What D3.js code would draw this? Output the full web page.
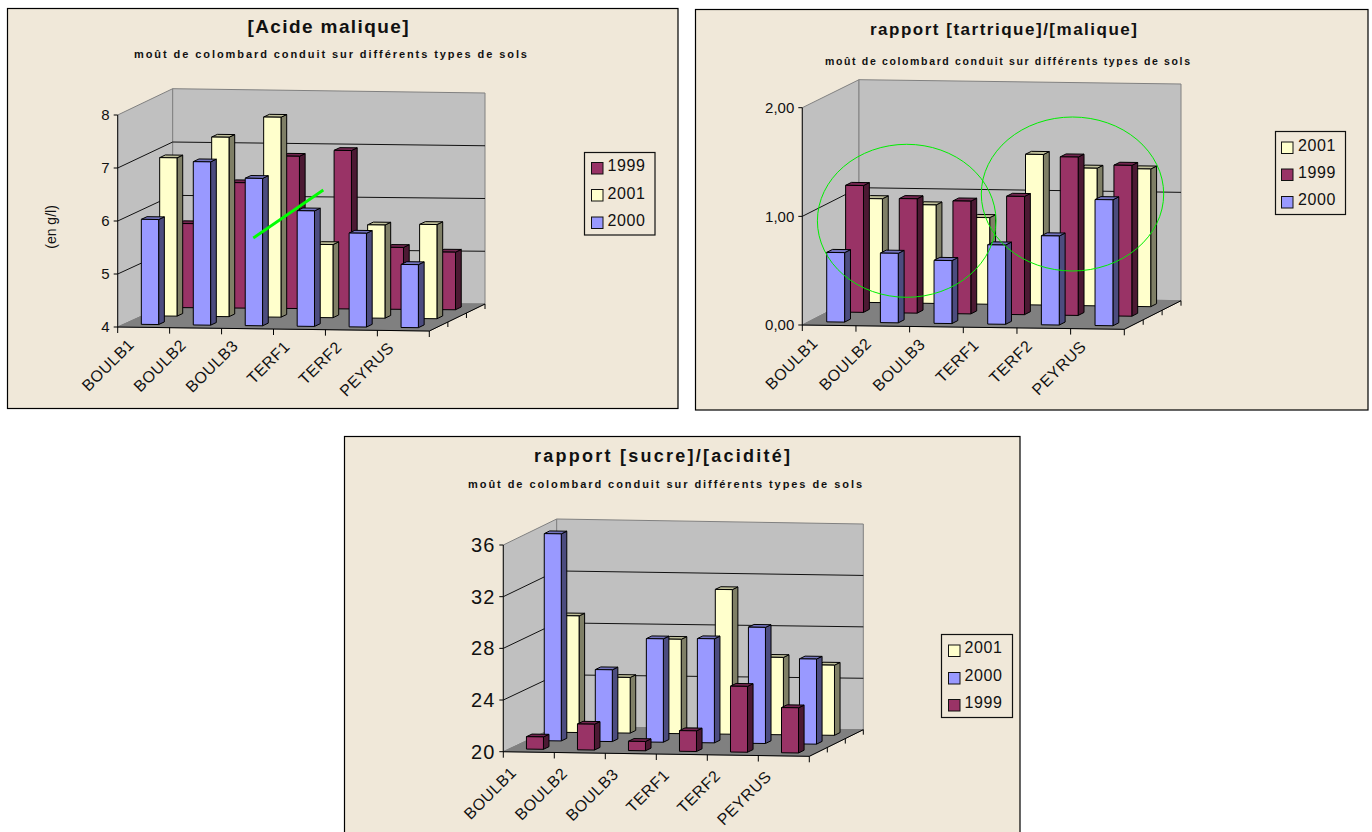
<!DOCTYPE html>
<html lang="fr">
<head>
<meta charset="utf-8">
<title>Moût de colombard</title>
<script src="https://cdn.jsdelivr.net/npm/d3@7"></script>
<style>
  html, body { margin: 0; padding: 0; background: #fff; overflow: hidden; }
  svg { display: block; font-family: "Liberation Sans", Arial, sans-serif; }
</style>
</head>
<body>
<svg id="board" width="1372" height="832"></svg>
<script>
// Sites, shared by the three charts
const categories = ["BOULB1", "BOULB2", "BOULB3", "TERF1", "TERF2", "PEYRUS"];

// Malic acid, g/l
const malique1999 = [5.58, 6.36, 6.87, 6.99, 5.17, 5.09];
const malique2001 = [6.98, 7.38, 7.77, 5.38, 5.76, 5.78];
const malique2000 = [5.98, 7.08, 6.78, 6.18, 5.77, 5.19];

// Tartaric / malic ratio
const tartrique2001 = [0.96, 0.91, 0.80, 1.39, 1.27, 1.27];
const tartrique1999 = [1.17, 1.055, 1.04, 1.09, 1.46, 1.39];
const tartrique2000 = [0.64, 0.64, 0.58, 0.73, 0.82, 1.16];

// Sugar / acidity ratio
const sucre2001 = [29.0, 24.3, 27.3, 31.2, 26.0, 25.45];
const sucre2000 = [36.0, 25.55, 28.0, 28.06, 29.0, 26.6];
const sucre1999 = [20.96, 22.0, 20.72, 21.6, 25.1, 23.5];

const malTicks = [4, 5, 6, 7, 8];
const malLabels = ["4", "5", "6", "7", "8"];
const tarTicks = [0, 1, 2];
const tarLabels = ["0,00", "1,00", "2,00"];
const sucTicks = [20, 24, 28, 32, 36];
const sucLabels = ["20", "24", "28", "32", "36"];

// Each series colour: front face, side face, top face
const palette = {
  "1999": ["#993366", "#4c1933", "#732650"],
  "2000": ["#9999ff", "#4c4c7f", "#7373bf"],
  "2001": ["#ffffcc", "#7f7f66", "#bfbf99"]
};

const charts = [
  {
    panel: [7.5, 8.5, 670.5, 400],
    title: "[Acide malique]", titleAt: [328, 33], titleSize: 19, titleLen: 161,
    subAt: [330.5, 58], subSize: 11, subLen: 393,
    // series listed front row first; legend order is separate
    rows: [["2000", malique2000], ["2001", malique2001], ["1999", malique1999]],
    legendOrder: ["1999", "2001", "2000"],
    domain: [4, 8], ticks: malTicks, tickLabels: malLabels, tickSize: 15,
    fl: [117.7, 327], fr: [429.3, 331], bl: [172.7, 302], br: [485, 304],
    hF: 212, hBL: 213.3, hBR: 211,
    labelOffset: [17.5, 18.5], xSize: 16,
    legend: { box: [584.5, 152.5, 70.5, 82.5], swX: 591.5, swY: [162.5, 189.5, 217], txX: 607.5, base: [171, 198.5, 226] }
  },
  {
    panel: [695.5, 9.5, 672.5, 400.5],
    title: "rapport [tartrique]/[malique]", titleAt: [1003.5, 35], titleSize: 17, titleLen: 267,
    subAt: [1007.5, 65], subSize: 10.5, subLen: 365,
    rows: [["2000", tartrique2000], ["1999", tartrique1999], ["2001", tartrique2001]],
    legendOrder: ["2001", "1999", "2000"],
    domain: [0, 2], ticks: tarTicks, tickLabels: tarLabels, tickSize: 15,
    fl: [802.3, 325], fr: [1124.3, 329.3], bl: [859, 295.7], br: [1181, 300.7],
    hF: 217.3, hBL: 216, hBR: 216.7,
    labelOffset: [16.5, 19], xSize: 16,
    legend: { box: [1275.5, 131.5, 70, 83], swX: 1281.5, swY: [142, 169, 196.5], txX: 1298, base: [150.5, 178, 205] }
  },
  {
    panel: [344.5, 436.5, 675.5, 410],
    title: "rapport [sucre]/[acidité]", titleAt: [662, 462], titleSize: 18, titleLen: 256,
    subAt: [665, 488], subSize: 11, subLen: 394,
    rows: [["1999", sucre1999], ["2000", sucre2000], ["2001", sucre2001]],
    legendOrder: ["2001", "2000", "1999"],
    domain: [20, 36], ticks: sucTicks, tickLabels: sucLabels, tickSize: 20,
    fl: [503.3, 751.7], fr: [809.3, 756.3], bl: [556.7, 726.7], br: [863.3, 729.7],
    hF: 206.7, hBL: 207.7, hBR: 205.7,
    labelOffset: [14, 22], xSize: 16,
    legend: { box: [941.5, 634.5, 71, 83], swX: 948.5, swY: [645, 672.5, 699.5], txX: 964.5, base: [653, 680.5, 707.5] }
  }
];

const svg = d3.select("#board");

charts.forEach(drawChart);

// Hand-drawn annotations over the charts
svg.append("line")
  .attr("x1", 253.3).attr("y1", 238).attr("x2", 323.3).attr("y2", 190)
  .attr("stroke", "#00ff00").attr("stroke-width", 2.8);
[[906.7, 220.8, 89.3, 76.5], [1072.5, 194, 91.2, 77]].forEach(([cx, cy, rx, ry]) => {
  svg.append("ellipse")
    .attr("cx", cx).attr("cy", cy).attr("rx", rx).attr("ry", ry)
    .attr("fill", "none").attr("stroke", "#00ee00").attr("stroke-width", 1);
});

function drawChart(c) {
  const g = svg.append("g");

  // Panel
  g.append("rect")
    .attr("x", c.panel[0]).attr("y", c.panel[1])
    .attr("width", c.panel[2]).attr("height", c.panel[3])
    .attr("fill", "#f0e8d9").attr("stroke", "#000").attr("stroke-width", 1.2);

  // Titles
  g.append("text").text(c.title)
    .attr("x", c.titleAt[0]).attr("y", c.titleAt[1])
    .attr("text-anchor", "middle").attr("font-weight", "bold")
    .attr("font-size", c.titleSize)
    .attr("textLength", c.titleLen).attr("lengthAdjust", "spacing")
    .attr("fill", "#111");
  g.append("text").text("moût de colombard conduit sur différents types de sols")
    .attr("x", c.subAt[0]).attr("y", c.subAt[1])
    .attr("text-anchor", "middle").attr("font-weight", "bold")
    .attr("font-size", c.subSize)
    .attr("textLength", c.subLen).attr("lengthAdjust", "spacing")
    .attr("fill", "#111");

  // Box coordinates: u along the sites, w into the depth, v up the value axis
  const project = (u, w, v) => {
    const xf = c.fl[0] + u * (c.fr[0] - c.fl[0]), yf = c.fl[1] + u * (c.fr[1] - c.fl[1]);
    const xb = c.bl[0] + u * (c.br[0] - c.bl[0]), yb = c.bl[1] + u * (c.br[1] - c.bl[1]);
    const hb = c.hBL + u * (c.hBR - c.hBL);
    const h = c.hF + w * (hb - c.hF);
    return [xf + w * (xb - xf), yf + w * (yb - yf) - v * h];
  };
  const path = pts => "M" + pts.map(p => project(...p).join(",")).join("L") + "Z";

  const uScale = d3.scaleBand().domain(categories).range([0, 1]);
  const wScale = d3.scaleBand().domain(c.rows.map(r => r[0])).range([0, 1]);
  const vScale = d3.scaleLinear().domain(c.domain).range([0, 1]);

  // Walls and floor
  g.append("path").attr("d", path([[0, 0, 0], [0, 0, 1], [0, 1, 1], [0, 1, 0]]))
    .attr("fill", "#c0c0c0").attr("stroke", "#808080");
  g.append("path").attr("d", path([[0, 1, 0], [0, 1, 1], [1, 1, 1], [1, 1, 0]]))
    .attr("fill", "#c0c0c0").attr("stroke", "#808080");
  g.append("path").attr("d", path([[0, 0, 0], [1, 0, 0], [1, 1, 0], [0, 1, 0]]))
    .attr("fill", "#808080").attr("stroke", "#808080");

  // Gridlines on both walls
  const line = (a, b, stroke = "#000", width = 1) => {
    const [x1, y1] = project(...a), [x2, y2] = project(...b);
    g.append("line").attr("x1", x1).attr("y1", y1).attr("x2", x2).attr("y2", y2)
      .attr("stroke", stroke).attr("stroke-width", width);
  };
  c.ticks.forEach(t => {
    const v = vScale(t);
    if (v === 0 || v === 1) return;
    line([0, 0, v], [0, 1, v], "#111");
    line([0, 1, v], [1, 1, v], "#111");
  });

  // Axes along the front and right edges of the floor
  line([0, 0, 0], [0, 0, 1], "#111");
  line([0, 0, 0], [1, 0, 0], "#000");
  line([1, 0, 0], [1, 1, 0], "#000");
  const tick = (u, w, dx, dy) => {
    const [x, y] = project(u, w, 0);
    g.append("line").attr("x1", x).attr("y1", y).attr("x2", x + dx).attr("y2", y + dy)
      .attr("stroke", "#000");
  };
  d3.range(categories.length + 1).forEach(i => tick(i / categories.length, 0, 0, 6));
  [1 / 3, 2 / 3, 1].forEach(w => tick(1, w, 0, 5));

  // Value axis ticks and labels
  c.ticks.forEach((t, i) => {
    const [x, y] = project(0, 0, vScale(t));
    g.append("line").attr("x1", x - 4).attr("y1", y).attr("x2", x).attr("y2", y).attr("stroke", "#000");
    g.append("text").text(c.tickLabels[i])
      .attr("x", x - 8).attr("y", y + c.tickSize * 0.35)
      .attr("text-anchor", "end").attr("font-size", c.tickSize)
      .attr("letter-spacing", c.tickSize > 16 ? 1 : 0).attr("fill", "#111");
  });

  // Site labels, turned 45 degrees
  categories.forEach(name => {
    const [x, y] = project(uScale(name), 0, 0);
    const lx = x + c.labelOffset[0], ly = y + c.labelOffset[1];
    g.append("text").text(name)
      .attr("transform", `translate(${lx},${ly}) rotate(-45)`)
      .attr("text-anchor", "end").attr("font-size", c.xSize)
      .attr("letter-spacing", 0.5).attr("fill", "#111");
  });

  // Bars, back row first so nearer rows paint over it
  const bw = uScale.bandwidth(), dw = wScale.bandwidth();
  c.rows.slice().reverse().forEach(([year, values]) => {
    const [front, side, top] = palette[year];
    const w0 = wScale(year) + dw * 0.345, w1 = wScale(year) + dw * 0.655;
    values.forEach((val, i) => {
      const u0 = uScale(categories[i]) + bw / 3, u1 = uScale(categories[i]) + bw * 2 / 3;
      const v = vScale(val);
      const bar = g.append("g").attr("stroke", "#000").attr("stroke-width", 1).attr("stroke-linejoin", "round");
      bar.append("path").attr("fill", side).attr("d", path([[u1, w0, 0], [u1, w1, 0], [u1, w1, v], [u1, w0, v]]));
      bar.append("path").attr("fill", top).attr("d", path([[u0, w0, v], [u1, w0, v], [u1, w1, v], [u0, w1, v]]));
      bar.append("path").attr("fill", front).attr("d", path([[u0, w0, 0], [u1, w0, 0], [u1, w0, v], [u0, w0, v]]));
    });
  });

  // Legend
  const L = c.legend;
  g.append("rect").attr("x", L.box[0]).attr("y", L.box[1]).attr("width", L.box[2]).attr("height", L.box[3])
    .attr("fill", "none").attr("stroke", "#111").attr("stroke-width", 1.2);
  c.legendOrder.forEach((year, i) => {
    g.append("rect").attr("x", L.swX).attr("y", L.swY[i]).attr("width", 11.5).attr("height", 11.5)
      .attr("fill", palette[year][0]).attr("stroke", "#111").attr("stroke-width", 1);
    g.append("text").text(year).attr("x", L.txX).attr("y", L.base[i])
      .attr("font-size", 16).attr("letter-spacing", 0.6).attr("fill", "#111");
  });

  // Unit caption on the malic acid chart only
  if (c.domain[1] === 8) {
    g.append("text").text("(en g/l)")
      .attr("transform", "translate(56,227) rotate(-90)")
      .attr("text-anchor", "middle").attr("font-size", 14).attr("fill", "#111");
  }
}
</script>
</body>
</html>
